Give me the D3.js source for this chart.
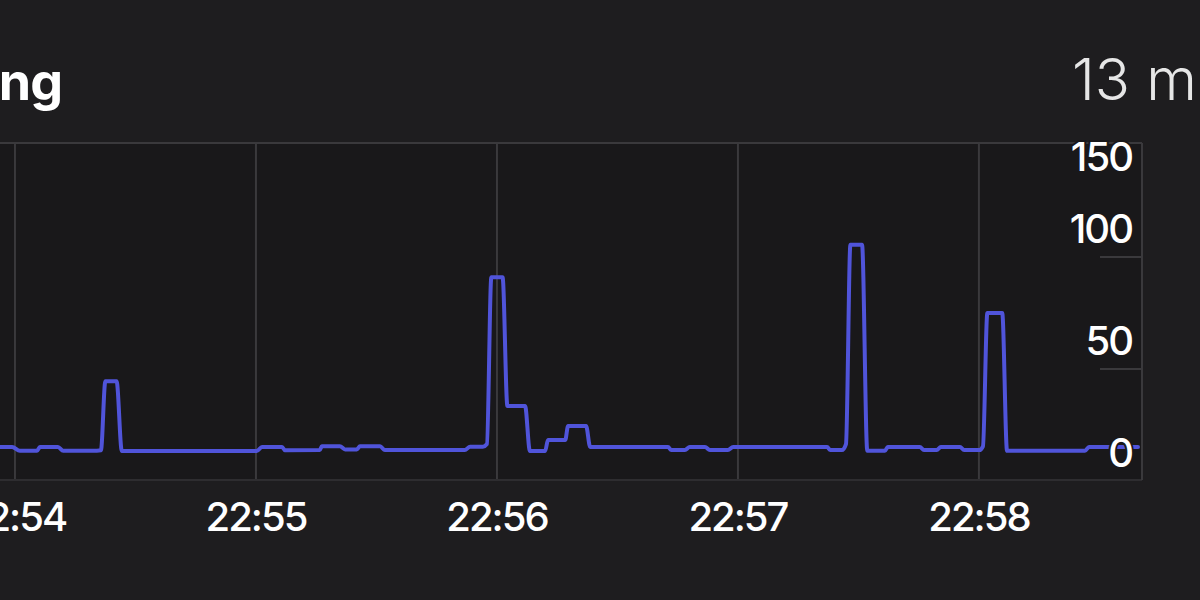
<!DOCTYPE html>
<html>
<head>
<meta charset="utf-8">
<script src="https://cdn.jsdelivr.net/npm/d3@7"></script>
<style>
  html, body { margin: 0; padding: 0; background: #1d1c1e; overflow: hidden; }
  svg { display: block; }
</style>
</head>
<body>
<svg id="chart" width="1200" height="600"></svg>
<script>
// ---- data ----
const title = "Ping";
const currentValue = "13 ms";
const timeTickLabels = ["22:54", "22:55", "22:56", "22:57", "22:58"];
const yTickValues = [0, 50, 100, 150];
// seconds after 22:54:00
const sampleSeconds = [
  -4, -0.7, 1.2, 5.5, 6.2, 10.7, 12, 20.4, 21.4, 22.5, 25.3, 26.6,
  60.2, 61.5, 66.5, 67.2, 75.9, 76.4, 80.9, 82.2, 85.1, 85.9, 90.9, 92.1,
  112, 113.3, 116.5, 117.5, 118.6, 121.4, 122.6, 127, 128.2, 132, 132.7, 137, 137.7, 142.2, 143.2,
  162.6, 163.4, 166.8, 168, 171.8, 173, 177.5, 178.8, 202.2, 203, 205.9, 206.9, 208, 210.9, 212.2,
  216.6, 217.3, 225.3, 226.3, 229.5, 230.5, 235.3, 236.3, 240.1, 241, 242.1, 245.8, 247,
  266.4, 267.4, 279.6
];
const pingValues = [
  2.7, 2.7, 1.0, 1.0, 2.7, 2.7, 1.0, 1.0, 1.2, 32, 32, 0.9,
  0.9, 2.7, 2.7, 1.2, 1.3, 3.0, 3.0, 1.6, 1.6, 3.0, 3.0, 1.3,
  1.3, 2.8, 2.8, 4, 78.5, 78.5, 21, 21, 0.9, 0.9, 5.8, 5.8, 12, 12, 2.7,
  2.7, 1.3, 1.3, 2.7, 2.7, 1.3, 1.3, 2.7, 2.7, 1.3, 1.3, 4, 93, 93, 1.0,
  1.0, 2.7, 2.7, 1.3, 1.3, 2.7, 2.7, 1.3, 1.3, 3, 62.5, 62.5, 1.0,
  1.0, 2.7, 2.7
];

// ---- layout ----
const W = 1200, H = 600;
const plot = { left: -2, right: 1142, top: 143, bottom: 480 };
const base = new Date(2024, 0, 1, 22, 54, 0);
const toDate = s => new Date(base.getTime() + s * 1000);
const parseTick = d3.timeParse("%H:%M");
const tickDates = timeTickLabels.map(t => {
  const p = parseTick(t);
  return new Date(2024, 0, 1, p.getHours(), p.getMinutes(), 0);
});

const x = d3.scaleTime()
  .domain([toDate(-3.73), toDate(280.6)])
  .range([0, plot.right]);
const y = d3.scaleLinear()
  .domain([0, 50])
  .range([453, 341]);

const svg = d3.select("#chart");

svg.append("rect").attr("x", 0).attr("y", 0).attr("width", W).attr("height", H).attr("fill", "#1e1d1f");
svg.append("rect").attr("x", 0).attr("y", plot.top).attr("width", plot.right).attr("height", plot.bottom - plot.top)
  .attr("fill", "#19181a");

const gridColor = "#3a393c";

// vertical minute grid lines
svg.append("g").selectAll("line").data(tickDates).join("line")
  .attr("x1", d => x(d)).attr("x2", d => x(d))
  .attr("y1", plot.top).attr("y2", plot.bottom)
  .attr("stroke", gridColor).attr("stroke-width", 2);

// frame
svg.append("line").attr("x1", 0).attr("x2", plot.right).attr("y1", plot.top).attr("y2", plot.top)
  .attr("stroke", gridColor).attr("stroke-width", 2);
svg.append("line").attr("x1", 0).attr("x2", plot.right).attr("y1", plot.bottom).attr("y2", plot.bottom)
  .attr("stroke", "#2e2d30").attr("stroke-width", 2);
svg.append("line").attr("x1", plot.right).attr("x2", plot.right).attr("y1", plot.top).attr("y2", plot.bottom)
  .attr("stroke", gridColor).attr("stroke-width", 2);

// short separator lines beneath the 50 and 100 labels
svg.append("g").selectAll("line").data(yTickValues.filter(v => v === 50 || v === 100)).join("line")
  .attr("x1", 1100).attr("x2", plot.right)
  .attr("y1", d => y(d) + 28).attr("y2", d => y(d) + 28)
  .attr("stroke", gridColor).attr("stroke-width", 2);

// line
const points = sampleSeconds.map((s, i) => ({ t: toDate(s), v: pingValues[i] }));
const line = d3.line()
  .x(d => x(d.t))
  .y(d => y(d.v))
  .curve(d3.curveMonotoneX);

svg.append("path")
  .datum(points)
  .attr("d", line)
  .attr("fill", "none")
  .attr("stroke", "#5054da")
  .attr("stroke-width", 4)
  .attr("stroke-linejoin", "round")
  .attr("stroke-linecap", "round");

// y labels (right side)
svg.append("g").selectAll("text").data(yTickValues).join("text")
  .attr("x", 1132)
  .attr("y", d => Math.max(y(d), plot.top + 14))
  .attr("dy", "0.36em")
  .attr("text-anchor", "end")
  .attr("fill", "#ffffff")
  .attr("font-family", "Inter, 'Noto Sans', sans-serif")
  .attr("font-weight", 500)
  .attr("font-size", 40)
  .attr("letter-spacing", "-2")
  .attr("stroke", "#19181a").attr("stroke-width", 4).attr("paint-order", "stroke")
  .text(d => d);

// x labels
svg.append("g").selectAll("text").data(tickDates).join("text")
  .attr("x", d => x(d))
  .attr("y", 531)
  .attr("text-anchor", "middle")
  .attr("fill", "#ffffff")
  .attr("font-family", "Inter, 'Noto Sans', sans-serif")
  .attr("font-weight", 500)
  .attr("font-size", 40)
  .attr("letter-spacing", "-2")
  .text((d, i) => timeTickLabels[i]);

// title
svg.append("text")
  .attr("x", 62).attr("y", 100)
  .attr("text-anchor", "end")
  .attr("fill", "#ffffff")
  .attr("font-family", "Inter, 'Noto Sans', sans-serif")
  .attr("font-weight", 700)
  .attr("font-size", 52)
  .attr("letter-spacing", "-1")
  .text(title);

// current value
svg.append("text")
  .attr("x", 1072).attr("y", 100)
  .attr("fill", "#e6e6e6")
  .attr("font-family", "Inter, 'Noto Sans', sans-serif")
  .attr("font-weight", 300)
  .attr("font-size", 58)
  .text(currentValue);
</script>
</body>
</html>
